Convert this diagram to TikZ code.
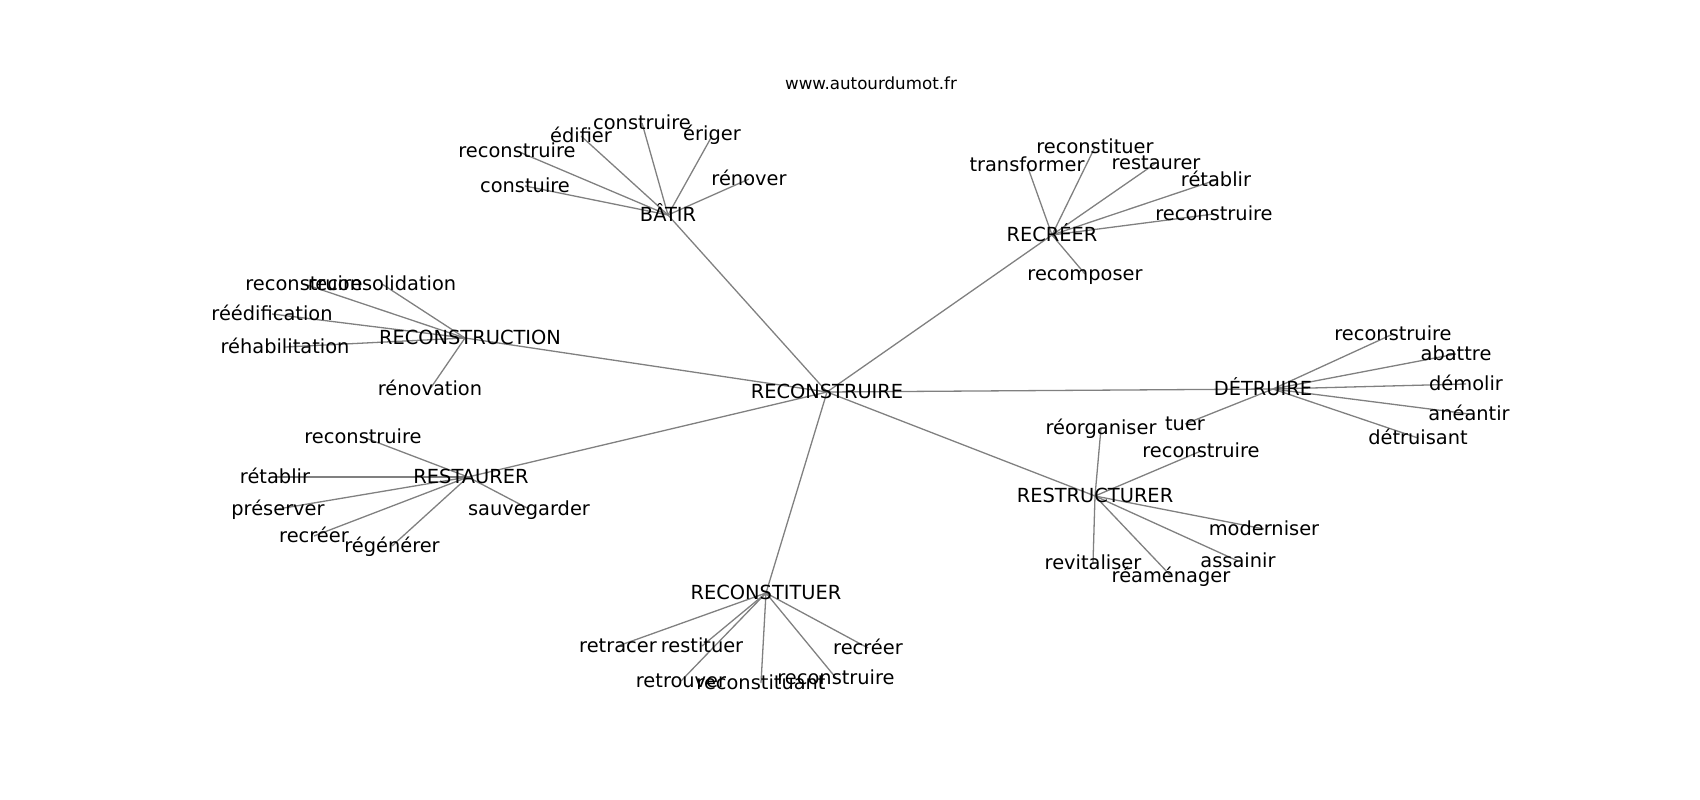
\documentclass[tikz,border=0pt]{standalone}
\usepackage{fontspec}
\setmainfont{DejaVu Sans}
\begin{document}
\begin{tikzpicture}[x=1pt,y=-1pt,
  lbl/.style={inner sep=0pt,anchor=center,text height=1.37em,text depth=0pt,font=\fontsize{19.4}{23}\selectfont},
  ttl/.style={inner sep=0pt,anchor=center,text height=1.2em,text depth=0pt,font=\fontsize{16.7}{20}\selectfont},
  edge/.style={draw=gray,line width=1.3pt}]
\useasboundingbox (0,0) rectangle (1700,800);
% title
\node[ttl] (title) at (871,83) {www.autourdumot.fr};
% hubs (coordinates where edges meet)
\coordinate (R) at (827,392);
\coordinate (B) at (668,215);
\coordinate (C) at (465,338);
\coordinate (D) at (1052,235);
\coordinate (E) at (1273,389);
\coordinate (F) at (1095,496);
\coordinate (G) at (468,477);
\coordinate (H) at (766,593);
% leaves
\coordinate (b1) at (517,151);
\coordinate (b2) at (581,136);
\coordinate (b3) at (642,123);
\coordinate (b4) at (712,136);
\coordinate (b5) at (525,186);
\coordinate (b6) at (749,179);
\coordinate (c1) at (304,284);
\coordinate (c2) at (382,284);
\coordinate (c3) at (272,314);
\coordinate (c4) at (285,347);
\coordinate (c5) at (430,389);
\coordinate (d1) at (1095,147);
\coordinate (d2) at (1027,165);
\coordinate (d3) at (1156,163);
\coordinate (d4) at (1216,180);
\coordinate (d5) at (1214,214);
\coordinate (d6) at (1085,274);
\coordinate (e1) at (1393,334);
\coordinate (e2) at (1456,354);
\coordinate (e3) at (1466,384);
\coordinate (e4) at (1469,414);
\coordinate (e5) at (1418,438);
\coordinate (e6) at (1185,424);
\coordinate (f1) at (1101,428);
\coordinate (f2) at (1201,451);
\coordinate (f3) at (1264,529);
\coordinate (f4) at (1238,561);
\coordinate (f5) at (1093,563);
\coordinate (f6) at (1171,576);
\coordinate (g1) at (363,437);
\coordinate (g2) at (275,477);
\coordinate (g3) at (278,509);
\coordinate (g4) at (314,536);
\coordinate (g5) at (392,546);
\coordinate (g6) at (529,509);
\coordinate (h1) at (618,646);
\coordinate (h2) at (702,646);
\coordinate (h3) at (868,648);
\coordinate (h4) at (681,681);
\coordinate (h5) at (761,683);
\coordinate (h6) at (836,678);
% edges
\foreach \h in {B,C,D,E,F,G,H} \draw[edge] (R) -- (\h);
\foreach \l in {b1,b2,b3,b4,b5,b6} \draw[edge] (B) -- (\l);
\foreach \l in {c1,c2,c3,c4,c5} \draw[edge] (C) -- (\l);
\foreach \l in {d1,d2,d3,d4,d5,d6} \draw[edge] (D) -- (\l);
\foreach \l in {e1,e2,e3,e4,e5,e6} \draw[edge] (E) -- (\l);
\foreach \l in {f1,f2,f3,f4,f5,f6} \draw[edge] (F) -- (\l);
\foreach \l in {g1,g2,g3,g4,g5,g6} \draw[edge] (G) -- (\l);
\foreach \l in {h1,h2,h3,h4,h5,h6} \draw[edge] (H) -- (\l);
% labels
\node[lbl] (tR) at (R) {RECONSTRUIRE};
\node[lbl] (tB) at (B) {BÂTIR};
\node[lbl] (tC) at ([xshift=5pt]C) {RECONSTRUCTION};
\node[lbl] (tD) at (D) {RECRÉER};
\node[lbl] (tE) at ([xshift=-10pt]E) {DÉTRUIRE};
\node[lbl] (tF) at (F) {RESTRUCTURER};
\node[lbl] (tG) at ([xshift=3pt]G) {RESTAURER};
\node[lbl] (tH) at (H) {RECONSTITUER};
\node[lbl] at (b1) {reconstruire};
\node[lbl] at (b2) {édifier};
\node[lbl] at (b3) {construire};
\node[lbl] at ([yshift=2pt]b4) {ériger};
\node[lbl] at (b5) {constuire};
\node[lbl] at (b6) {rénover};
\node[lbl] at (c1) {reconstruire};
\node[lbl] at (c2) {reconsolidation};
\node[lbl] at (c3) {réédification};
\node[lbl] at (c4) {réhabilitation};
\node[lbl] at (c5) {rénovation};
\node[lbl] at (d1) {reconstituer};
\node[lbl] at (d2) {transformer};
\node[lbl] at (d3) {restaurer};
\node[lbl] at (d4) {rétablir};
\node[lbl] at (d5) {reconstruire};
\node[lbl] at (d6) {recomposer};
\node[lbl] at (e1) {reconstruire};
\node[lbl] at (e2) {abattre};
\node[lbl] at (e3) {démolir};
\node[lbl] at (e4) {anéantir};
\node[lbl] at (e5) {détruisant};
\node[lbl] at (e6) {tuer};
\node[lbl] at (f1) {réorganiser};
\node[lbl] at (f2) {reconstruire};
\node[lbl] at (f3) {moderniser};
\node[lbl] at (f4) {assainir};
\node[lbl] at (f5) {revitaliser};
\node[lbl] at (f6) {réaménager};
\node[lbl] at (g1) {reconstruire};
\node[lbl] at (g2) {rétablir};
\node[lbl] at (g3) {préserver};
\node[lbl] at (g4) {recréer};
\node[lbl] at (g5) {régénérer};
\node[lbl] at (g6) {sauvegarder};
\node[lbl] at (h1) {retracer};
\node[lbl] at (h2) {restituer};
\node[lbl] at (h3) {recréer};
\node[lbl] at (h4) {retrouver};
\node[lbl] at (h5) {reconstituant};
\node[lbl] at (h6) {reconstruire};
\end{tikzpicture}
\end{document}
